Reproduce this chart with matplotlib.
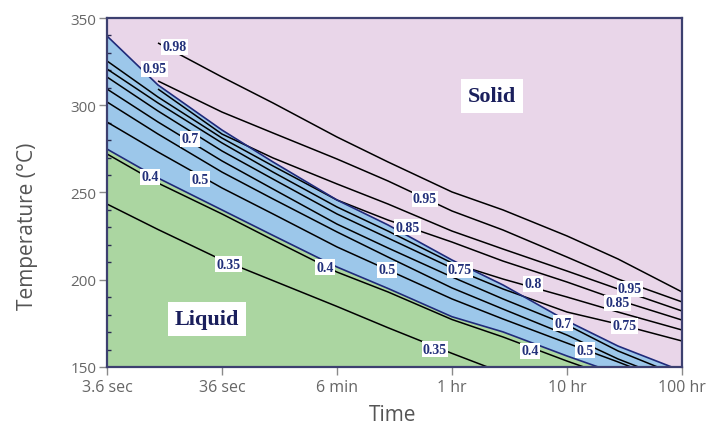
import matplotlib
matplotlib.use("Agg")
import matplotlib.pyplot as plt
from matplotlib.ticker import NullLocator, FixedLocator, NullFormatter
import numpy as np

# ---------------- data ----------------
# time grid (seconds)
times = [3.6, 10, 36, 100, 360, 1000, 3600, 10000, 36000, 100000, 360000]

# phase boundaries (temperature, degC)
solid_edge  = [339.7, 311.6, 285.8, 267.5, 245.7, 231.4, 211.3, 197.0, 176.4, 162.0, 147.7]
liquid_edge = [274.9, 258.3, 240.0, 225.4, 207.3, 195.0, 178.8, 170.1, 156.3, 146.0, 134.6]

nan = np.nan
iso_098 = [nan, 335.7, 316.2, 301.3, 281.8, 267.5, 250.3, 240.0, 225.1, 211.9, 193.0]
iso_095 = [nan, 313.9, 296.1, 284.1, 269.2, 256.6, 239.4, 228.5, 213.0, 200.4, 187.3]
iso_090 = [nan, 309.3, 283.5, 269.8, 254.9, 243.4, 227.9, 217.6, 205.0, 194.7, 182.1]
iso_085 = [325.4, 304.7, 281.2, 265.2, 245.7, 234.2, 221.6, 210.7, 198.7, 188.4, 176.9]
iso_080 = [320.8, 301.3, 278.4, 261.7, 241.7, 227.9, 209.6, 200.4, 190.1, 181.5, 171.2]
iso_075 = [316.2, 296.7, 273.8, 257.7, 237.7, 223.9, 206.7, 194.7, 181.5, 174.6, 164.9]
iso_070 = [309.3, 290.4, 268.1, 252.0, 231.9, 218.2, 201.6, 189.0, 174.1, 159.2, 144.3]
iso_060 = [301.9, 283.5, 261.7, 246.3, 227.4, 213.0, 195.3, 183.2, 168.3, 154.6, 140.3]
iso_050 = [290.4, 273.2, 252.6, 237.7, 218.8, 205.6, 189.0, 177.5, 163.7, 152.9, 138.6]
iso_040 = [272.1, 255.4, 237.7, 222.8, 204.4, 193.0, 177.2, 167.2, 153.4, 143.1, 131.7]
iso_035 = [243.4, 228.8, 211.3, 199.5, 184.7, 172.5, 157.8, 146.6, 131.7, 120.2, 105.9]

isolines = [iso_098, iso_095, iso_090, iso_085, iso_080, iso_075,
            iso_070, iso_060, iso_050, iso_040, iso_035]

# contour labels: text, time (s), temperature
label_texts = ["0.98", "0.95", "0.7", "0.5", "0.4", "0.35", "0.95", "0.85", "0.4",
               "0.5", "0.75", "0.8", "0.95", "0.85", "0.75", "0.7", "0.4", "0.5", "0.35"]
label_times = [14.0, 9.4, 19.05, 23.2, 8.5, 40.7, 2096, 1490, 283,
               980, 4229, 18210, 127150, 99830, 114900, 33215, 17165, 51660, 2560]
label_temps = [333.4, 320.8, 280.7, 257.7, 258.9, 209.0, 246.3, 230.2, 207.3,
               205.6, 205.6, 197.6, 194.7, 186.7, 173.5, 175.2, 159.2, 159.7, 160.3]

region_texts = ["Solid", "Liquid"]
region_times = [8020, 26.7]
region_temps = [305.3, 177.5]

xtick_vals = [3.6, 36, 360, 3600, 36000, 360000]
xtick_labels = ["3.6 sec", "36 sec", "6 min", "1 hr", "10 hr", "100 hr"]
ytick_vals = [150, 200, 250, 300, 350]

# ---------------- style ----------------
pink = "#e9d6e9"
blue = "#9cc7ea"
green = "#abd6a1"
navy = "#1f2a7a"
frame = "#3d4070"

fig = plt.figure(figsize=(7.16, 4.27), dpi=100)
ax = fig.add_axes([0.1494, 0.1382, 0.8031, 0.8173])
ax.set_xscale("log")
ax.set_facecolor(pink)

ax.fill_between(times, solid_edge, 400, color=pink, lw=0)
ax.fill_between(times, liquid_edge, solid_edge, color=blue, lw=0)
ax.fill_between(times, 100, liquid_edge, color=green, lw=0)

for iso in isolines:
    ax.plot(times, iso, color="black", lw=1.1, solid_capstyle="butt")
ax.plot(times, solid_edge, color=navy, lw=1.2)
ax.plot(times, liquid_edge, color=navy, lw=1.2)

for txt, t, T in zip(label_texts, label_times, label_temps):
    ax.text(t, T, txt, ha="center", va="center", fontsize=10,
            family="Liberation Serif", weight="bold", color="#22307a",
            bbox=dict(boxstyle="square,pad=0.1", fc="white", ec="none"), zorder=5)

for txt, t, T in zip(region_texts, region_times, region_temps):
    ax.text(t, T, txt, ha="center", va="center", fontsize=16,
            family="Liberation Serif", weight="bold", color="#1a1f5c",
            bbox=dict(boxstyle="square,pad=0.3", fc="white", ec="none"), zorder=5)

ax.set_xlim(3.6, 360000)
ax.set_ylim(150, 350)

ax.xaxis.set_major_locator(FixedLocator(xtick_vals))
ax.set_xticklabels(xtick_labels)
ax.xaxis.set_minor_locator(NullLocator())
ax.set_yticks(ytick_vals)
ax.yaxis.set_minor_locator(FixedLocator(np.arange(160, 350, 10)))
ax.yaxis.set_minor_formatter(NullFormatter())

for lab in ax.get_xticklabels():
    lab.set_family("Open Sans")
    lab.set_fontsize(11.5)
    lab.set_color("#666666")
for lab in ax.get_yticklabels():
    lab.set_family("Open Sans")
    lab.set_fontsize(11)
    lab.set_color("#666666")

ax.tick_params(which="major", direction="out", length=6, width=1,
               color="#8a8a8a", pad=3)
ax.tick_params(axis="y", which="major", pad=1.5)
ax.tick_params(axis="y", which="minor", direction="in", length=3, width=1,
               color="#2a2a50")

for sp in ax.spines.values():
    sp.set_color(frame)
    sp.set_linewidth(1.6)

# inner ticks of the original diagram
top = ax.secondary_xaxis("top")
top.xaxis.set_major_locator(FixedLocator(3.6 * 10 ** (np.arange(1, 10) / 2.0)))
top.xaxis.set_minor_locator(NullLocator())
top.tick_params(direction="in", length=4, width=1.2, color="#2b3c96",
                labeltop=False)
top.spines["top"].set_visible(False)

right = ax.secondary_yaxis("right")
right.yaxis.set_major_locator(FixedLocator(np.arange(160, 350, 20)))
right.tick_params(direction="in", length=5, width=1.2, color="#2b4cb0",
                  labelright=False)
right.spines["right"].set_visible(False)

ax.set_xlabel("Time", family="Open Sans", fontsize=15, color="#555555")
ax.set_ylabel("Temperature (°C)", family="Open Sans", fontsize=15, color="#555555")
ax.xaxis.set_label_coords(0.497, -0.105)
ax.yaxis.set_label_coords(-0.12, 0.405)

fig.savefig("out.png", dpi=100)
